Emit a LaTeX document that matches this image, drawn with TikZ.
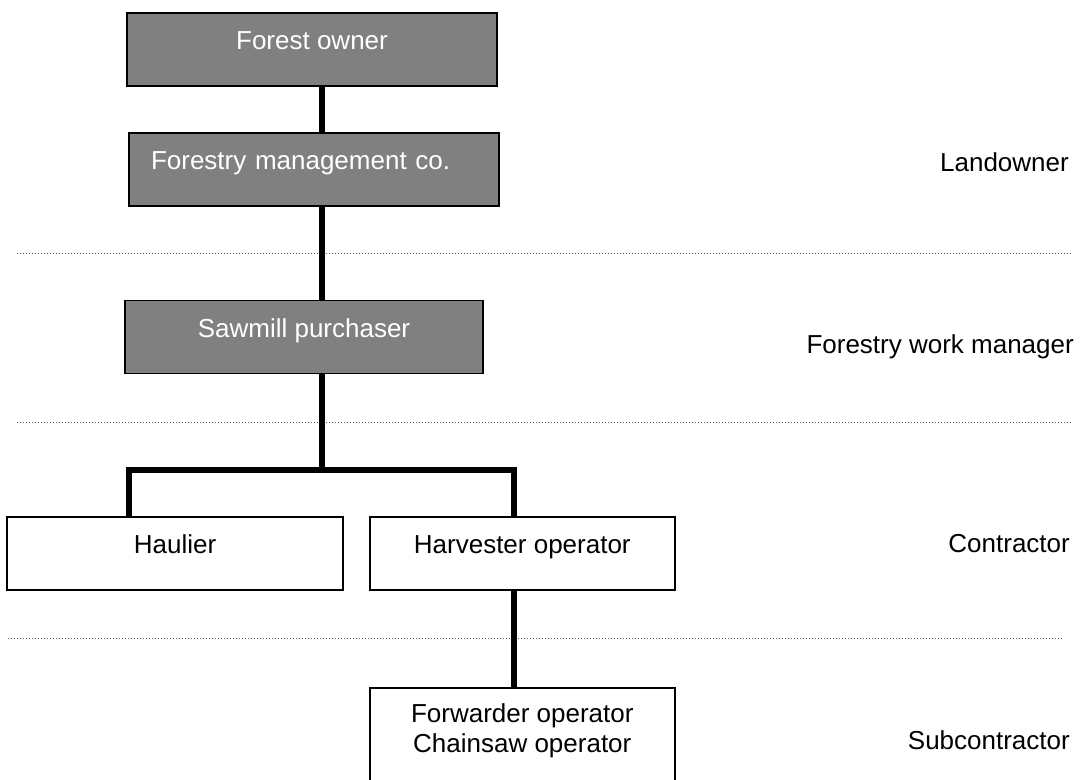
\documentclass[tikz,border=0pt]{standalone}
\usepackage{fontspec}
\setmainfont{Liberation Sans}
\usetikzlibrary{positioning}
\tikzset{
    boxnode/.style = {draw=black, rectangle, line width=1.8pt, fill=white, inner sep=0em,
      text height=0pt, text depth=0pt, minimum height=73pt, font=\fontsize{26}{30}\selectfont},
    grayboxnode/.style = {boxnode, fill=gray, text=white},
    levelnode/.style = {draw=none, fill=none, anchor=base east, inner sep=0em,
      font=\fontsize{26}{30}\selectfont},
    connect/.style = {black, line width=6pt, line join=miter},
    dividerline/.style = {black!65, line width=1pt, dash pattern=on 1pt off 2pt}
}

\begin{document}
\begin{tikzpicture}[x=1pt, y=-1pt]
\useasboundingbox (0,0) rectangle (1081,779);

% level dividers
\draw[dividerline] (17,253) -- (1073,253);
\draw[dividerline] (17,422) -- (1073,422);
\draw[dividerline] (8,638) -- (1063,638);

% chain of the forest owner
\node [grayboxnode, name=owner, minimum width=370pt] at (312,49.5) {Forest owner};
\node [grayboxnode, name=management, minimum width=370pt, text width=326pt, align=left]
    at (314,169.5) {Forestry management co.};
\node [grayboxnode, name=sawmill, minimum width=358pt] at (304,337) {Sawmill purchaser};

% contractors
\node [boxnode, name=haulier, minimum width=336pt] at (175,553.5) {Haulier};
\node [boxnode, name=harvester, minimum width=305pt, right=25pt of haulier] {Harvester operator};
\node [boxnode, name=forwarder, minimum width=305pt, minimum height=0pt, align=center,
    text height=65pt, text depth=30pt, below=96pt of harvester] {Forwarder operator\\Chainsaw operator};

% levels
\node [levelnode, name=landowner] at (1069,171) {Landowner};
\node [levelnode, name=workmanager] at (1074,353) {Forestry work manager};
\node [levelnode, name=contractor] at (1070,552) {Contractor};
\node [levelnode, name=subcontractor] at (1070,749) {Subcontractor};

\coordinate (trunk) at (322,470);
\draw[connect] (owner.south -| trunk) -- (management.north -| trunk);
\draw[connect] (management.south -| trunk) -- (sawmill.north -| trunk);
\draw[connect] (sawmill.south -| trunk) -- (trunk);
\draw[connect] ([xshift=-46pt]haulier.north) |- (trunk) -| ([xshift=-8pt]harvester.north);
\draw[connect] ([xshift=-8pt]harvester.south) -- ([xshift=-8pt]forwarder.north);
\end{tikzpicture}
\end{document}
